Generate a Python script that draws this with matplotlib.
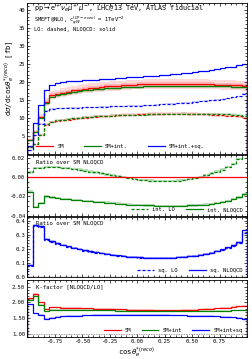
import numpy as np
import matplotlib
matplotlib.use("Agg")
import matplotlib.pyplot as plt

plt.rcParams["font.family"] = ["DejaVu Sans Mono", "DejaVu Sans"]
plt.rcParams["mathtext.fontset"] = "dejavusans"

# bin edges in cos(theta*)
edges = np.linspace(-1.0, 1.0, 41)

# main panel, d sigma / d cos [fb]
sm_nlo = [3.9, 6.2, 10.3, 14.4, 16.3, 16.6, 17.0, 17.3, 17.6, 17.85, 18.05, 18.25, 18.4, 18.55, 18.7,
          18.8, 18.9, 19.0, 19.1, 19.2, 19.25, 19.3, 19.35, 19.4, 19.4, 19.45, 19.45, 19.45, 19.45, 19.4,
          19.4, 19.35, 19.3, 19.25, 19.2, 19.15, 19.1, 19.05, 19.0, 18.9]
smint_nlo = [3.8, 6.0, 10.0, 14.1, 15.9, 16.2, 16.6, 16.9, 17.2, 17.4, 17.6, 17.8, 17.9, 18.05, 18.2,
             18.3, 18.35, 18.45, 18.55, 18.6, 18.65, 18.7, 18.75, 18.8, 18.8, 18.85, 18.85, 18.85, 18.85, 18.8,
             18.8, 18.8, 18.75, 18.75, 18.7, 18.7, 18.7, 18.6, 18.55, 18.45]
full_nlo = [2.2, 8.5, 13.5, 17.6, 19.0, 19.6, 19.9, 20.1, 20.2, 20.3, 20.4, 20.5, 20.6, 20.7, 20.8,
            20.9, 21.0, 21.1, 21.2, 21.3, 21.4, 21.5, 21.6, 21.7, 21.8, 21.95, 22.1, 22.25, 22.4, 22.55,
            22.7, 22.9, 23.1, 23.3, 23.5, 23.7, 23.95, 24.2, 24.5, 25.0]
sm_lo = [1.9, 2.7, 5.2, 8.1, 8.8, 9.1, 9.3, 9.5, 9.7, 9.85, 10.0, 10.15, 10.3, 10.4, 10.5,
         10.6, 10.7, 10.8, 10.85, 10.9, 10.95, 11.0, 11.05, 11.1, 11.1, 11.15, 11.15, 11.15, 11.15, 11.1,
         11.05, 11.0, 10.95, 10.9, 10.8, 10.75, 10.65, 10.55, 10.4, 10.1]
smint_lo = [2.0, 2.8, 5.3, 8.25, 8.95, 9.3, 9.5, 9.7, 9.88, 10.02, 10.15, 10.28, 10.4, 10.48, 10.56,
            10.63, 10.7, 10.77, 10.8, 10.84, 10.88, 10.92, 10.97, 11.02, 11.04, 11.1, 11.12, 11.14, 11.17, 11.14,
            11.12, 11.1, 11.08, 11.06, 11.0, 11.0, 10.95, 10.9, 10.8, 10.6]
full_lo = [1.15, 5.2, 8.4, 12.0, 12.5, 12.6, 12.7, 12.75, 12.8, 12.85, 12.9, 12.95, 13.0, 13.05, 13.1,
           13.15, 13.2, 13.25, 13.3, 13.35, 13.4, 13.45, 13.55, 13.65, 13.75, 13.85, 13.95, 14.05, 14.15, 14.25,
           14.4, 14.55, 14.7, 14.85, 15.0, 15.2, 15.45, 15.7, 16.0, 16.6]

# ratio over SM NLO: interference
int_lo = [0.005, 0.010, 0.010, 0.011, 0.011, 0.0105, 0.010, 0.0095, 0.009, 0.008, 0.007, 0.006, 0.005, 0.004,
          0.003, 0.002, 0.001, 0.0, -0.001, -0.002, -0.0025, -0.003, -0.0035, -0.004, -0.004, -0.004, -0.004,
          -0.0035, -0.003, -0.002, -0.001, 0.0005, 0.002, 0.004, 0.006, 0.008, 0.011, 0.014, 0.019, 0.025]
int_nlo = [-0.015, -0.031, -0.027, -0.020, -0.021, -0.022, -0.0225, -0.023, -0.0235, -0.024, -0.0245, -0.025,
           -0.0255, -0.026, -0.0265, -0.027, -0.0275, -0.028, -0.0285, -0.029, -0.029, -0.0295, -0.0295, -0.030,
           -0.030, -0.030, -0.030, -0.030, -0.030, -0.0295, -0.0295, -0.029, -0.0285, -0.028, -0.027, -0.026,
           -0.025, -0.023, -0.021, -0.018]

# ratio over SM NLO: squared
sq_nlo = [0.085, 0.37, 0.36, 0.27, 0.255, 0.24, 0.228, 0.217, 0.207, 0.198, 0.19, 0.182, 0.175, 0.169, 0.163,
          0.158, 0.153, 0.149, 0.145, 0.142, 0.14, 0.138, 0.137, 0.136, 0.136, 0.137, 0.138, 0.14, 0.143, 0.147,
          0.152, 0.158, 0.165, 0.173, 0.183, 0.195, 0.21, 0.228, 0.25, 0.33]
sq_lo = [0.08, 0.36, 0.355, 0.265, 0.25, 0.236, 0.224, 0.213, 0.203, 0.195, 0.187, 0.18, 0.173, 0.167, 0.161,
         0.156, 0.151, 0.147, 0.143, 0.14, 0.138, 0.136, 0.135, 0.135, 0.135, 0.136, 0.137, 0.139, 0.142, 0.146,
         0.151, 0.157, 0.164, 0.172, 0.181, 0.192, 0.205, 0.222, 0.24, 0.315]

# K-factors
k_sm = [2.13, 2.28, 2.0, 1.78, 1.84, 1.84, 1.83, 1.83, 1.82, 1.82, 1.81, 1.81, 1.8, 1.8, 1.79, 1.79, 1.78,
        1.78, 1.77, 1.77, 1.76, 1.76, 1.76, 1.75, 1.75, 1.75, 1.75, 1.75, 1.76, 1.76, 1.77, 1.78, 1.79, 1.8,
        1.81, 1.82, 1.83, 1.85, 1.87, 1.9]
k_smint = [2.08, 2.2, 1.92, 1.71, 1.76, 1.77, 1.77, 1.77, 1.77, 1.76, 1.76, 1.76, 1.76, 1.75, 1.75, 1.75,
           1.74, 1.74, 1.74, 1.73, 1.73, 1.73, 1.73, 1.72, 1.72, 1.72, 1.72, 1.72, 1.72, 1.73, 1.73, 1.73,
           1.73, 1.74, 1.74, 1.74, 1.74, 1.75, 1.75, 1.75]
k_full = [1.94, 1.65, 1.6, 1.47, 1.51, 1.54, 1.56, 1.57, 1.58, 1.58, 1.59, 1.59, 1.6, 1.6, 1.6, 1.6, 1.6,
          1.6, 1.6, 1.6, 1.6, 1.6, 1.6, 1.6, 1.6, 1.6, 1.59, 1.59, 1.59, 1.58, 1.58, 1.58, 1.57, 1.57, 1.56,
          1.55, 1.54, 1.53, 1.51, 1.48]

# relative uncertainty bands (scale variation)
band_nlo_up, band_nlo_dn = 0.07, 0.07
band_in = 0.03
band_lo = 0.04

RED, GREEN, BLUE = "red", "green", "blue"
W, H = 252, 359
fig = plt.figure(figsize=(W / 100, H / 100), dpi=100)


def box(top, bottom, left=27, right=247):
    return [left / W, 1 - bottom / H, (right - left) / W, (bottom - top) / H]


ax0 = fig.add_axes(box(3, 154))
ax1 = fig.add_axes(box(155, 216), sharex=ax0)
ax2 = fig.add_axes(box(217, 277), sharex=ax0)
ax3 = fig.add_axes(box(280, 337), sharex=ax0)

lw = 0.9
dash = (0, (2.5, 1.5))
fs_leg = 4.0
fs_txt = 4.1


def band(ax, vals, up, dn, color, alpha):
    v = np.array(vals)
    ax.stairs(v * (1 + up), edges, baseline=v * (1 - dn), fill=True, color=color, alpha=alpha, lw=0)


def absband(ax, vals, d, color, alpha):
    v = np.array(vals)
    ax.stairs(v + d, edges, baseline=v - d, fill=True, color=color, alpha=alpha, lw=0)


# main panel
band(ax0, sm_nlo, band_nlo_up, band_nlo_dn, RED, 0.15)
band(ax0, sm_nlo, band_in, band_in, RED, 0.15)
band(ax0, smint_nlo, band_in, band_in, GREEN, 0.15)
band(ax0, sm_lo, band_lo, band_lo, RED, 0.15)
band(ax0, smint_lo, band_in, band_in, GREEN, 0.15)
band(ax0, full_lo, 0.01, 0.01, BLUE, 0.2)
ax0.stairs(sm_nlo, edges, color=RED, lw=lw)
ax0.stairs(smint_nlo, edges, color=GREEN, lw=lw)
ax0.stairs(full_nlo, edges, color=BLUE, lw=lw)
ax0.stairs(sm_lo, edges, color=RED, lw=lw, ls=dash)
ax0.stairs(smint_lo, edges, color=GREEN, lw=lw, ls=dash)
ax0.stairs(full_lo, edges, color=BLUE, lw=lw, ls=dash)
ax0.set_ylim(0, 41.8)
ax0.set_yticks(np.arange(5, 41, 5))
ax0.set_ylabel(r"d$\sigma$/dcos$\theta_e^{*(reco)}$ [fb]", fontsize=5.2, labelpad=2)
ax0.text(0.03, 0.968, r"pp$\rightarrow$e$^+\nu_e\mu^+\mu^-$, LHC@13 TeV, ATLAS fiducial",
         transform=ax0.transAxes, fontsize=4.9, va="center")
ax0.text(0.03, 0.881, r"SMEFT@NLO, c$_{\varphi W}^{(CP-even)}$ = 1TeV$^{-2}$",
         transform=ax0.transAxes, fontsize=3.9, va="center")
ax0.text(0.03, 0.826, "LO: dashed, NLOQCD: solid", transform=ax0.transAxes, fontsize=3.9, va="center")
h = [plt.Line2D([], [], color=c, lw=lw) for c in (RED, GREEN, BLUE)]
ax0.legend(h, ["SM", "SM+int.", "SM+int.+sq."], loc="lower left", bbox_to_anchor=(0.02, 0.0),
           ncol=3, frameon=False, fontsize=fs_leg, handlelength=3.0, columnspacing=3.6, handletextpad=0.8)

# ratio: interference
ax1.axhline(0, color=RED, lw=lw)
absband(ax1, int_lo, 0.0012, GREEN, 0.25)
absband(ax1, int_nlo, 0.0012, GREEN, 0.25)
ax1.stairs(int_lo, edges, color=GREEN, lw=lw, ls=dash)
ax1.stairs(int_nlo, edges, color=GREEN, lw=lw)
ax1.set_ylim(-0.0405, 0.0233)
ax1.set_yticks([-0.04, -0.02, 0.0, 0.02])
ax1.set_yticklabels(["-0.04", "-0.02", "0.00", "0.02"])
ax1.text(0.04, 0.93, "Ratio over SM NLOQCD", transform=ax1.transAxes, fontsize=fs_txt, va="top")
h = [plt.Line2D([], [], color=GREEN, lw=lw, ls=dash), plt.Line2D([], [], color=GREEN, lw=lw)]
ax1.legend(h, ["int. LO", "int. NLOQCD"], loc="lower right", ncol=2, frameon=False, fontsize=fs_leg,
           handlelength=3.0, columnspacing=2.0, handletextpad=0.8, borderaxespad=0.3)

# ratio: squared
ax2.axhline(0, color="#8b1a1a", lw=lw)
absband(ax2, sq_lo, 0.006, BLUE, 0.2)
absband(ax2, sq_nlo, 0.006, BLUE, 0.2)
ax2.stairs(sq_lo, edges, color=BLUE, lw=lw, ls=dash)
ax2.stairs(sq_nlo, edges, color=BLUE, lw=lw)
ax2.set_ylim(0, 0.425)
ax2.set_yticks([0.0, 0.1, 0.2, 0.3, 0.4])
ax2.text(0.04, 0.95, "Ratio over SM NLOQCD", transform=ax2.transAxes, fontsize=fs_txt, va="top")
h = [plt.Line2D([], [], color=BLUE, lw=lw, ls=dash), plt.Line2D([], [], color=BLUE, lw=lw)]
ax2.legend(h, ["sq. LO", "sq. NLOQCD"], loc="lower right", ncol=2, frameon=False, fontsize=fs_leg,
           handlelength=3.0, columnspacing=2.0, handletextpad=0.8, borderaxespad=0.4)

# K-factor
ax3.axhline(1.0, color="gray", lw=0.6, ls=(0, (1, 1)))
absband(ax3, k_sm, 0.02, RED, 0.2)
absband(ax3, k_smint, 0.02, GREEN, 0.2)
absband(ax3, k_full, 0.02, BLUE, 0.2)
ax3.stairs(k_sm, edges, color=RED, lw=lw)
ax3.stairs(k_smint, edges, color=GREEN, lw=lw)
ax3.stairs(k_full, edges, color=BLUE, lw=lw)
ax3.set_ylim(0.9, 2.71)
ax3.set_yticks([1.0, 1.5, 2.0, 2.5])
ax3.set_yticklabels(["1.00", "1.50", "2.00", "2.50"])
ax3.text(0.04, 0.93, "K-factor [NLOQCD/LO]", transform=ax3.transAxes, fontsize=fs_txt, va="top")
h = [plt.Line2D([], [], color=c, lw=lw) for c in (RED, GREEN, BLUE)]
ax3.legend(h, ["SM", "SM+int", "SM+int+sq"], loc="lower right", ncol=3, frameon=False, fontsize=fs_leg,
           handlelength=3.0, columnspacing=1.8, handletextpad=0.8, borderaxespad=0.4)
ax3.set_xlim(-1, 1)
ax3.set_xticks([-0.75, -0.5, -0.25, 0.0, 0.25, 0.5, 0.75])
ax3.set_xticklabels(["-0.75", "-0.50", "-0.25", "0.00", "0.25", "0.50", "0.75"])
ax3.set_xlabel(r"cos$\theta_e^{*(reco)}$", fontsize=5.2, labelpad=1)

for ax in (ax0, ax1, ax2, ax3):
    ax.minorticks_on()
    ax.tick_params(which="both", direction="in", top=True, right=True, labelsize=4.0, pad=1.5, width=0.5)
    ax.tick_params(which="major", length=2.5)
    ax.tick_params(which="minor", length=1.2)
    for s in ax.spines.values():
        s.set_linewidth(0.6)
    if ax is not ax3:
        ax.tick_params(labelbottom=False)

fig.savefig("out.png", dpi=100)
